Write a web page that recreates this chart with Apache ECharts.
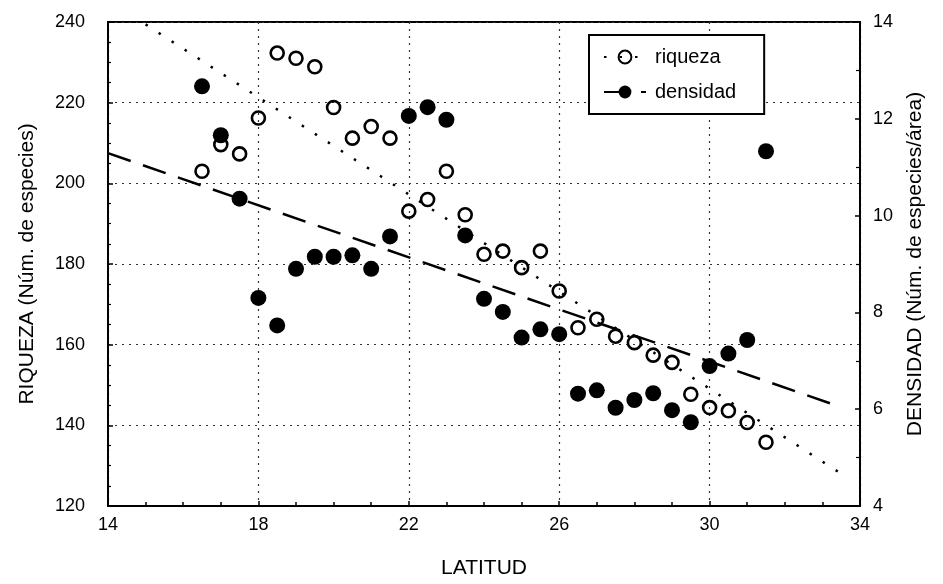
<!DOCTYPE html>
<html>
<head>
<meta charset="utf-8">
<script src="https://cdn.jsdelivr.net/npm/echarts@6/dist/echarts.min.js"></script>
<style>
  html, body { margin: 0; padding: 0; background: #fff; }
  #chart { width: 943px; height: 584px; }
</style>
</head>
<body>
<div id="chart"></div>
<script>
// Latitude of each sampling band
const latitud = [16.5, 17, 17.5, 18, 18.5, 19, 19.5, 20, 20.5, 21, 21.5, 22, 22.5, 23, 23.5,
                 24, 24.5, 25, 25.5, 26, 26.5, 27, 27.5, 28, 28.5, 29, 29.5, 30, 30.5, 31, 31.5];
// Species richness (left axis)
const riqueza = [203, 209.6, 207.3, 216.2, 232.3, 231, 228.9, 218.8, 211.2, 214.1, 211.2, 193.1, 196, 203, 192.2,
                 182.4, 183.2, 179.1, 183.2, 173.3, 164.2, 166.3, 162.1, 160.5, 157.4, 155.6, 147.7, 144.4, 143.6, 140.7, 135.8];
// Species density (right axis)
const densidad = [12.67, 11.66, 10.35, 8.30, 7.73, 8.90, 9.15, 9.15, 9.18, 8.90, 9.57, 12.06, 12.24, 11.98, 9.59,
                  8.28, 8.01, 7.48, 7.65, 7.55, 6.32, 6.39, 6.03, 6.19, 6.33, 5.98, 5.73, 6.89, 7.15, 7.43, 11.33];
// Fitted trend lines (end points)
const riquezaTrendX = [15, 33.6];
const riquezaTrendY = [239.4, 127.4];
const densidadTrendX = [14, 33.4];
const densidadTrendY = [11.29, 6.07];
// Axis ranges
const xTicks = [14, 18, 22, 26, 30, 34];
const leftTicks = [120, 140, 160, 180, 200, 220, 240];
const rightTicks = [4, 6, 8, 10, 12, 14];

const FONT = "'Liberation Sans', Arial, Helvetica, sans-serif";
const pairs = (xs, ys) => xs.map((x, i) => [x, ys[i]]);

const chart = echarts.init(document.getElementById('chart'), null, { renderer: 'canvas' });

const axisText = { color: '#000', fontFamily: FONT, fontSize: 18 };
const nameText = { color: '#000', fontFamily: FONT, fontSize: 21 };

chart.setOption({
  animation: false,
  backgroundColor: '#fff',
  grid: {
    left: 108, right: 83, top: 22, bottom: 77,
    show: true, borderColor: '#000', borderWidth: 2, backgroundColor: 'transparent'
  },
  legend: {
    data: ['riqueza', 'densidad'],
    orient: 'vertical',
    left: 589, top: 35,
    padding: [12, 28, 12, 14],
    itemGap: 15,
    itemWidth: 42, itemHeight: 16,
    borderColor: '#000', borderWidth: 2,
    backgroundColor: '#fff',
    textStyle: { color: '#000', fontFamily: FONT, fontSize: 20, padding: [0, 0, 0, 4] }
  },
  xAxis: {
    type: 'value',
    min: xTicks[0], max: xTicks[xTicks.length - 1], interval: 4,
    name: 'LATITUD', nameLocation: 'middle', nameGap: 52, nameTextStyle: nameText,
    axisLine: { show: true, lineStyle: { color: '#000', width: 2 } },
    axisTick: { show: true, inside: true, length: 5, lineStyle: { color: '#000', width: 1.5 } },
    minorTick: { show: true, splitNumber: 4, length: 4, lineStyle: { color: '#000', width: 1.5 } },
    axisLabel: Object.assign({ margin: 10 }, axisText),
    splitLine: { show: true, lineStyle: { color: '#333', width: 1.2, type: [2, 5] } }
  },
  yAxis: [
    {
      type: 'value', position: 'left',
      min: leftTicks[0], max: leftTicks[leftTicks.length - 1], interval: 20,
      name: 'RIQUEZA (Núm. de especies)', nameLocation: 'middle', nameGap: 70, nameRotate: 90,
      nameTextStyle: nameText,
      axisLine: { show: true, lineStyle: { color: '#000', width: 2 } },
      axisTick: { show: true, inside: true, length: 5, lineStyle: { color: '#000', width: 1.5 } },
      minorTick: { show: true, splitNumber: 4, length: 3, lineStyle: { color: '#000', width: 1.2 } },
      axisLabel: Object.assign({ margin: 23 }, axisText),
      splitLine: { show: true, lineStyle: { color: '#333', width: 1.2, type: [2, 5] } }
    },
    {
      type: 'value', position: 'right',
      min: rightTicks[0], max: rightTicks[rightTicks.length - 1], interval: 2,
      name: 'DENSIDAD (Núm. de especies/área)', nameLocation: 'middle', nameGap: 45, nameRotate: 90,
      nameTextStyle: nameText,
      axisLine: { show: true, lineStyle: { color: '#000', width: 2 } },
      axisTick: { show: true, inside: true, length: 5, lineStyle: { color: '#000', width: 1.5 } },
      minorTick: { show: true, splitNumber: 2, length: 4, lineStyle: { color: '#000', width: 1.2 } },
      axisLabel: Object.assign({ margin: 13 }, axisText),
      splitLine: { show: false }
    }
  ],
  series: [
    {
      name: 'riqueza', type: 'line', yAxisIndex: 0, z: 2,
      data: pairs(riquezaTrendX, riquezaTrendY),
      showSymbol: false, symbol: 'circle', symbolSize: 12,
      itemStyle: { color: 'rgba(0,0,0,0)', borderColor: '#000', borderWidth: 2.5 },
      lineStyle: { color: '#000', width: 2.5, type: [2.5, 13] },
      silent: true
    },
    {
      name: 'densidad', type: 'line', yAxisIndex: 1, z: 2,
      data: pairs(densidadTrendX, densidadTrendY),
      showSymbol: false, symbol: 'circle', symbolSize: 15,
      itemStyle: { color: '#000', borderWidth: 0 },
      lineStyle: { color: '#000', width: 2.5, type: [24, 13] },
      silent: true
    },
    {
      name: 'riqueza-puntos', type: 'scatter', yAxisIndex: 0, z: 3,
      data: pairs(latitud, riqueza),
      symbol: 'circle', symbolSize: 13,
      itemStyle: { color: 'rgba(0,0,0,0)', borderColor: '#000', borderWidth: 2.6, opacity: 1 }
    },
    {
      name: 'densidad-puntos', type: 'scatter', yAxisIndex: 1, z: 4,
      data: pairs(latitud, densidad),
      symbol: 'circle', symbolSize: 16,
      itemStyle: { color: '#000', opacity: 1 }
    }
  ]
});
</script>
</body>
</html>
